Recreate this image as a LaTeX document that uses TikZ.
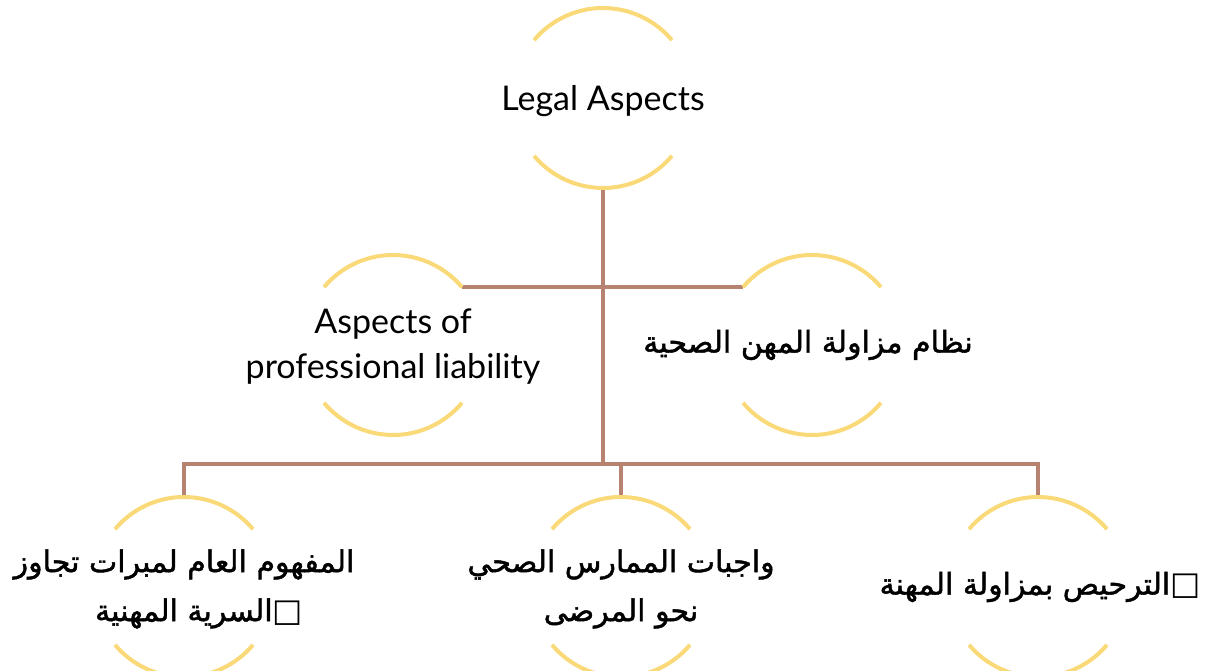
\documentclass[tikz,border=0pt]{standalone}
\usepackage{fontspec}
\setmainfont{Lato}
\newfontfamily\arabicfont[Script=Arabic,FakeBold=1.5]{DejaVu Sans}
\newfontfamily\symfont{DejaVu Sans}
\TeXXeTstate=1
\definecolor{conncol}{HTML}{B7826F}
\definecolor{ringcol}{HTML}{F9D978}
\tikzset{
  ringnode/.style={circle,minimum size=180pt,inner sep=0pt,outer sep=0pt},
  ringline/.style={draw=ringcol,line width=4pt},
  connline/.style={draw=conncol,line width=4.5pt},
  entxt/.style={font=\fontsize{34}{45}\selectfont,align=center,inner sep=0pt},
  artxt/.style={font=\arabicfont\fontsize{30}{49}\selectfont,align=center,inner sep=0pt}
}
\newcommand\ringarcs[1]{%
  \draw[ringline] (#1.40) arc[start angle=40,end angle=140,radius=90pt];
  \draw[ringline] (#1.220) arc[start angle=220,end angle=320,radius=90pt];}
\newcommand\tofu{{\symfont\fontsize{32}{40}\selectfont □}}
\begin{document}
\begin{tikzpicture}[x=1pt,y=1pt]
\useasboundingbox (0,0) rectangle (1227,-671);
% ring nodes
\node[ringnode] (top) at (603,-98) {};
\node[ringnode] (ml) at (393,-345) {};
\node[ringnode] (mr) at (812,-345) {};
\node[ringnode] (bl) at (184,-587) {};
\node[ringnode] (bm) at (621,-587) {};
\node[ringnode] (br) at (1038,-587) {};
\coordinate (bar) at (0,-464);
% connectors
\draw[connline] (top.south) -- (top.south |- bar);
\draw[connline] (ml.40) -- (mr.140);
\draw[connline,line join=miter] (bl.north) -- (bl.north |- bar) -- (br.north |- bar) -- (br.north);
\draw[connline] (bm.north) -- (bm.north |- bar);
% rings
\ringarcs{top}
\ringarcs{ml}
\ringarcs{mr}
\ringarcs{bl}
\ringarcs{bm}
\ringarcs{br}
% texts
\node[entxt] (t0) at ([yshift=-3]top) {Legal Aspects};
\node[entxt] (t1) at ([yshift=-2]ml) {Aspects of\\professional liability};
\node[artxt] (t2) at ([xshift=-4]mr) {\beginR نظام مزاولة المهن الصحية\endR};
\node[artxt] (t3) at ([yshift=-2]bl) {\beginR المفهوم العام لمبرات تجاوز\endR\\\hspace*{30pt}\beginR السرية المهنية\endR\tofu};
\node[artxt] (t4) at ([yshift=-2]bm) {\beginR واجبات الممارس الصحي\endR\\\beginR نحو المرضى\endR};
\node[artxt] (t5) at ([xshift=2]br) {\beginR الترحيص بمزاولة المهنة\endR\tofu};
\end{tikzpicture}
\end{document}
